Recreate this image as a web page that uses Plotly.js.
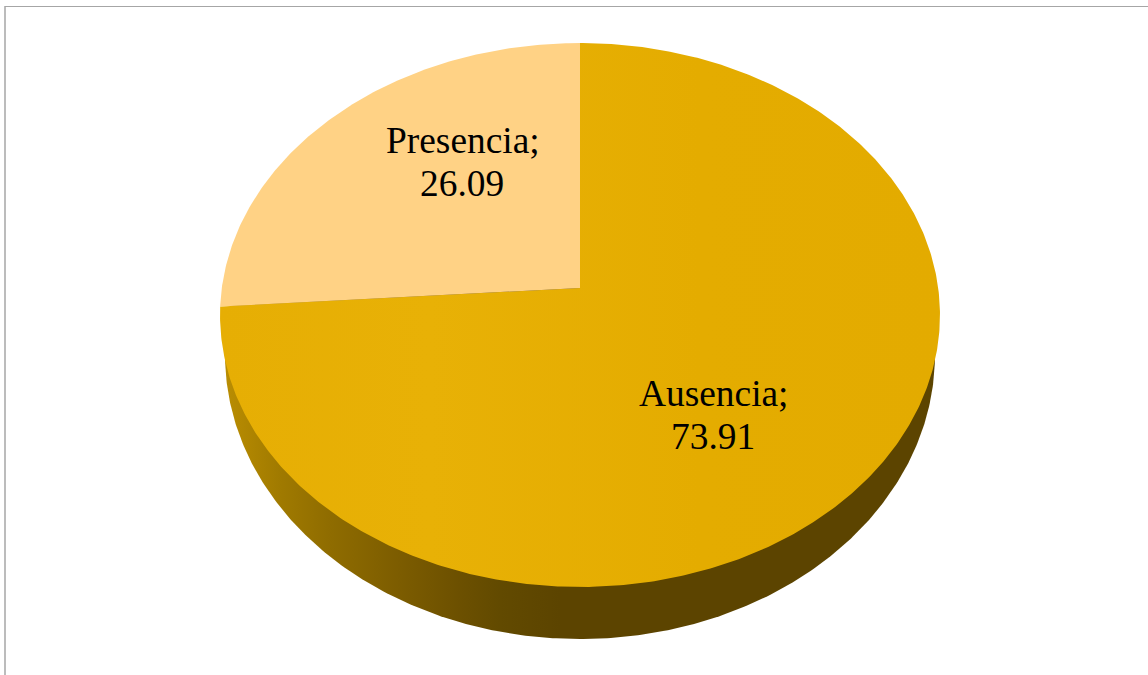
<!DOCTYPE html>
<html>
<head>
<meta charset="utf-8">
<script src="https://cdn.plot.ly/plotly-3.0.1.min.js"></script>
<style>html,body{margin:0;padding:0;background:#fff}#chart{width:1148px;height:675px}</style>
</head>
<body>
<div id="chart"></div>
<script>
// Share of cases by presence of the trait, in percent
const categories = ["Ausencia", "Presencia"];
const shares = [73.91, 26.09];

// Perspective discs: centre, half-width, half-height, shared foreshortening
const persp = 0.0993;
const topDisc = {cx: 580, cy: 288, w: 358.2, h: 269.3};
const baseDisc = {cx: 580, cy: 326.8, w: 353.2, h: 281.2};

const presenciaFill = "#ffd285";

// Horizontal shading, as [x position, colour]
const gradientFrom = 220, gradientTo = 940;
const wallStops = [[220, "#bb8f03"], [240, "#b38801"], [280, "#a07a00"], [330, "#8f6c00"], [400, "#7c5c00"], [460, "#6c5000"], [500, "#624a00"], [560, "#5c4400"], [940, "#5c4400"]];
const faceStops = [[220, "#e6ae04"], [430, "#e8b106"], [700, "#e4ac00"], [940, "#e3ab00"]];

const gradient = stops => ({
  type: "horizontal", start: gradientFrom, stop: gradientTo,
  colorscale: stops.map(s => [(s[0] - gradientFrom) / (gradientTo - gradientFrom), s[1]])
});

// Clockwise angle from 12 o'clock to a point on the rim of a disc
function project(disc, deg) {
  const t = deg * Math.PI / 180;
  const u = Math.sin(t), v = Math.cos(t), w = 1 + persp * v;
  return [disc.cx + disc.w * u / w, disc.cy - disc.h * v / w];
}
function arc(disc, from, to) {
  const n = Math.ceil(Math.abs(to - from) * 2), out = [];
  for (let i = 0; i <= n; i++) out.push(project(disc, from + (to - from) * i / n));
  return out;
}
function wedge(from, to) {
  const centre = [topDisc.cx, topDisc.cy];
  return [centre].concat(arc(topDisc, from, to), [centre]);
}
function patch(name, points, paint) {
  return Object.assign({
    type: "scatter", mode: "lines", fill: "toself", name: name,
    x: points.map(p => p[0]), y: points.map(p => p[1]),
    line: {width: 0}, hoverinfo: "skip", showlegend: false
  }, paint);
}

// Slices sweep clockwise from 12 o'clock
const total = shares.reduce((a, b) => a + b, 0);
const split = shares[0] / total * 360;

const traces = [
  patch("wall", arc(baseDisc, 0, 360), {fillgradient: gradient(wallStops)}),
  patch(categories[0], wedge(0, split), {fillgradient: gradient(faceStops)}),
  patch(categories[1], wedge(split, 360), {fillcolor: presenciaFill})
];

// Two-line labels centred over each slice
const labelX = [714, 463], nameY = [393, 140], valueY = [436, 183];
const font = {family: "'Liberation Serif', 'Times New Roman', serif", size: 37.4, color: "#000"};
const annotations = [];
categories.forEach((name, i) => {
  annotations.push({x: labelX[i], y: nameY[i], text: name + ";", showarrow: false, font: font, xanchor: "center", yanchor: "middle"});
  annotations.push({x: labelX[i] - 1.5, y: valueY[i], text: shares[i].toFixed(2), showarrow: false, font: font, xanchor: "center", yanchor: "middle"});
});

const layout = {
  width: 1148, height: 675, margin: {l: 0, r: 0, t: 0, b: 0},
  paper_bgcolor: "#fff", plot_bgcolor: "#fff", showlegend: false,
  xaxis: {range: [0, 1148], visible: false, fixedrange: true},
  yaxis: {range: [675, 0], visible: false, fixedrange: true},
  annotations: annotations,
  shapes: [
    {type: "line", x0: 5, x1: 1148, y0: 6.5, y1: 6.5, line: {color: "#a6a6a6", width: 1}},
    {type: "line", x0: 5, x1: 5, y0: 6, y1: 675, line: {color: "#a6a6a6", width: 1.5}}
  ]
};
Plotly.newPlot("chart", traces, layout, {displayModeBar: false, staticPlot: true});
</script>
</body>
</html>
